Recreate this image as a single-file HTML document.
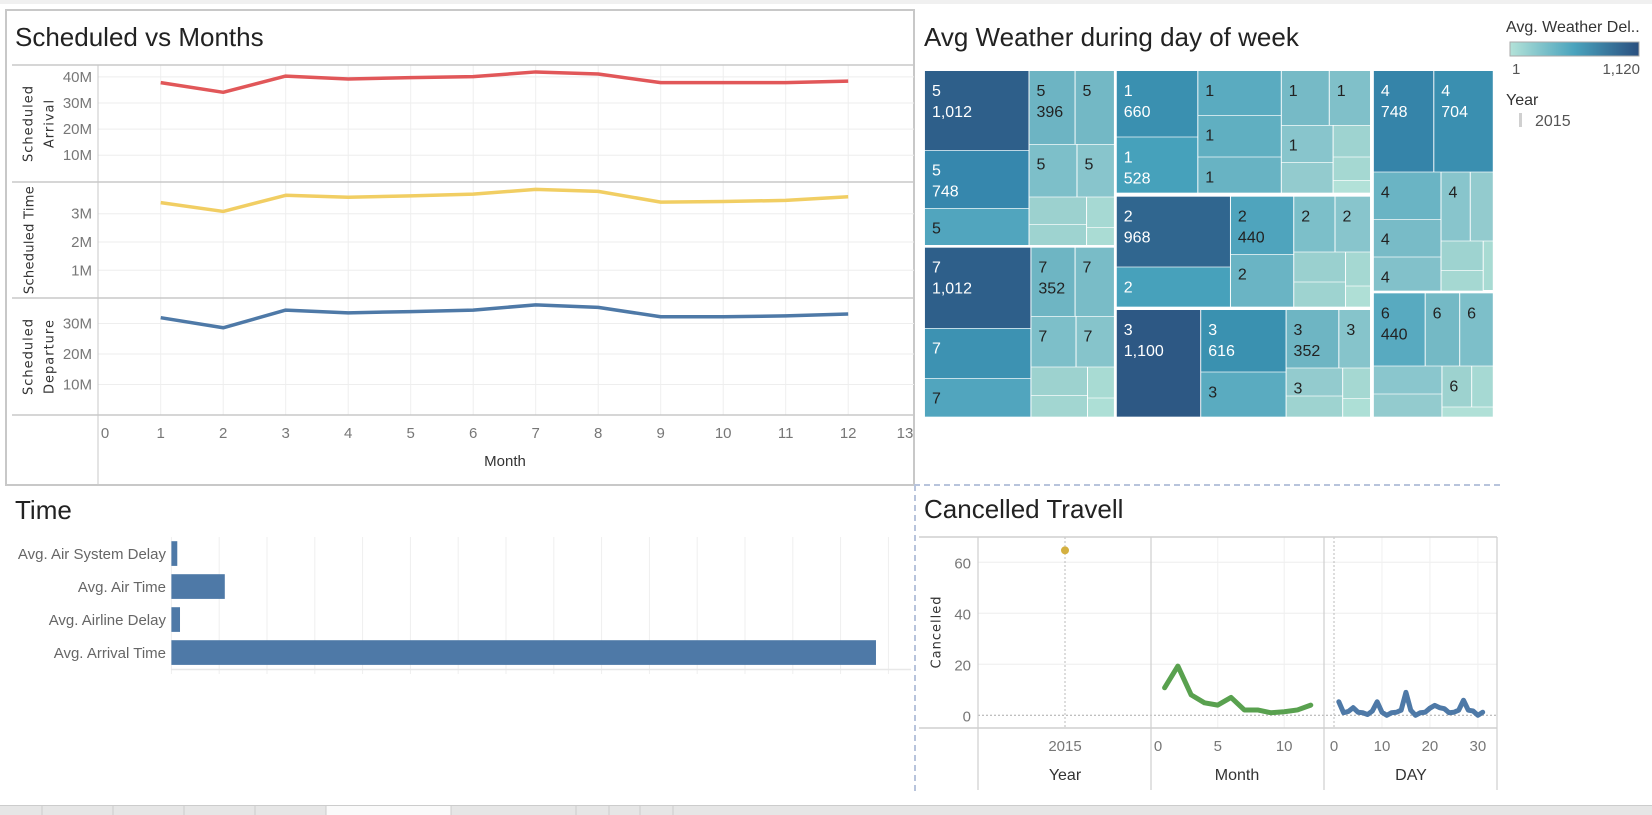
<!DOCTYPE html>
<html><head><meta charset="utf-8">
<style>
html,body{margin:0;padding:0;background:#fff;width:1652px;height:815px;overflow:hidden}
svg{display:block}
text{font-family:"Liberation Sans Narrow","Liberation Sans",sans-serif}
</style></head>
<body>
<svg id="s" width="1652" height="815" viewBox="0 0 1652 815" xmlns="http://www.w3.org/2000/svg">
<rect x="0" y="0" width="1652" height="4" fill="#f0f0f0"/>
<rect x="6" y="10" width="908" height="475" fill="none" stroke="#c8c8c8" stroke-width="2"/>
<text x="15" y="46" font-size="26" fill="#222">Scheduled vs Months</text>
<text x="924" y="46" font-size="26" fill="#222">Avg Weather during day of week</text>
<text x="15" y="519" font-size="26" fill="#222">Time</text>
<text x="924" y="518" font-size="26" fill="#222">Cancelled Travell</text>
<line x1="914" y1="485" x2="1501" y2="485" stroke="#b8c4dc" stroke-width="2" stroke-dasharray="6,4"/>
<line x1="915" y1="485" x2="915" y2="795" stroke="#b8c4dc" stroke-width="2" stroke-dasharray="6,4"/>
<rect x="0" y="805" width="1652" height="10" fill="#e6e6e6"/>
<rect x="326" y="806" width="125" height="9" fill="#fafafa"/>
<g id="tabs"></g>
<g id="left"></g><g id="tree"></g><g id="legend"></g><g id="bars"></g><g id="canc"></g>
</svg>
<script>
// ---- Scheduled vs Months data ----
const months=[1,2,3,4,5,6,7,8,9,10,11,12];
const arrival=[37.8,34.1,40.3,39.2,39.7,40.1,41.9,41.1,37.8,37.8,37.8,38.4];
const schedTime=[3.39,3.08,3.65,3.58,3.63,3.69,3.86,3.79,3.41,3.43,3.47,3.6];
const departure=[31.9,28.6,34.4,33.5,33.9,34.4,36.1,35.3,32.2,32.2,32.5,33.1];
const monthTicks=[0,1,2,3,4,5,6,7,8,9,10,11,12,13];
const arrTicks=[10,20,30,40];
const timeTicks=[1,2,3];
const depTicks=[10,20,30];
// ---- Time bars ----
const barCats=["Avg. Air System Delay","Avg. Air Time","Avg. Airline Delay","Avg. Arrival Time"];
const barVals=[12.3,111.7,18,1474];
// ---- Cancelled ----
const yearVal=[64.7];
const monthCanc=[10.8,19.3,8,4.9,4,7,2.1,2.1,1,1.4,2.1,4];
const dayCanc=[5.3,1,1.5,3,1.2,1,0.3,1.7,5.3,1.2,0,1,1.2,2,9,2,0,1,1.2,2.8,3.9,3,2.6,1,1.2,2,5.9,2,1.7,0,1.2];
const cancTicks=[0,20,40,60];
// ---- Treemap cells ----
const tmDays=["5","5","5","5","5","5","5","","","","", "7","7","7","7","7","7","7","","","","", "1","1","1","1","1","1","1","1","","","","", "2","2","2","2","2","2","","","","", "3","3","3","3","3","3","","","", "4","4","4","4","4","4","","","","", "6","6","6","","","6","",""];
const tmVals=["1,012","396","","748","","","","","","","", "1,012","352","","","","","","","","","", "660","528","","","","","","","","","","", "968","","440","","","","","","","", "1,100","616","","352","","","","","", "748","704","","","","","","","","", "440","","","","","","",""];
const tmColors=["#2e5f8a","#6db4c3","#73b8c5","#3687ad","#51a5be","#7dbfc9","#88c5cc","#9cd1cf","#a6d9d3","#9ed3d0","#aadcd4",
"#2e5f8a","#6eb5c3","#79bcc7","#3d92b2","#51a5be","#7dbfc9","#86c4cb","#9dd2cf","#a8dbd3","#a2d6d1","#addfd6",
"#3a90b0","#46a1bb","#5aabc0","#60afc1","#68b3c3","#76bac6","#80c0c9","#88c5cc","#9ed3d0","#93cbce","#a5d8d2","#b2e1d8",
"#30668f","#47a1bb","#4fa4bd","#6ab4c4","#7cbfc9","#88c5cc","#9ad0cf","#a5d8d2","#9ed3d0","#afdfd6",
"#2d5884","#3a91b0","#5aabc0","#6eb5c3","#86c4cb","#93cbce","#a5d8d2","#9ed3d0","#addfd6",
"#3584a9","#3a8fb0","#6ab4c4","#78bbc7","#82c1ca","#88c5cc","#93cbce","#9ed3d0","#a8dbd3","#a5d8d2",
"#58aac0","#74b9c5","#7dbfc9","#8ac6cd","#93cbce","#9dd2cf","#a6d9d3","#b0e0d7"];
const tmRects=[[52,268,213,450],[270,364,213,432],[366,446,213,432],[52,268,452,624],[52,268,626,735],[270,368,434,590],[370,446,434,590],[270,388,592,672],[390,446,592,682],[270,388,674,735],[390,446,684,735],
[52,272,743,984],[274,364,743,948],[366,446,743,948],[52,272,986,1134],[52,272,1136,1250],[274,366,950,1100],[368,446,950,1100],[274,390,1102,1185],[392,446,1102,1193],[274,390,1187,1250],[392,446,1195,1250],
[452,620,213,410],[452,620,412,578],[622,794,213,345],[622,794,347,470],[622,794,472,578],[796,894,213,375],[896,980,213,375],[796,902,377,486],[904,980,377,470],[796,902,488,578],[904,980,472,540],[904,980,542,578],
[452,688,590,800],[452,688,802,920],[690,820,590,762],[690,820,764,920],[822,906,590,755],[908,980,590,755],[822,928,757,845],[930,980,757,857],[822,928,847,920],[930,980,859,920],
[452,626,930,1250],[628,804,930,1115],[628,804,1117,1250],[806,914,930,1103],[916,980,930,1103],[806,922,1105,1187],[924,980,1105,1195],[806,922,1189,1250],[924,980,1197,1250],
[988,1112,213,515],[1114,1236,213,515],[988,1127,517,657],[988,1127,659,770],[988,1127,772,872],[1129,1188,517,722],[1190,1236,517,722],[1129,1215,724,810],[1217,1236,724,870],[1129,1215,812,872],
[988,1094,880,1097],[1096,1166,880,1097],[1168,1236,880,1097],[988,1129,1099,1181],[988,1129,1183,1250],[1131,1191,1099,1220],[1193,1236,1099,1220],[1131,1236,1222,1250]];

const NS="http://www.w3.org/2000/svg";
function mk(tag,attrs,parent,txt){const e=document.createElementNS(NS,tag);for(const k in attrs)e.setAttribute(k,attrs[k]);if(txt!==undefined)e.textContent=txt;parent.appendChild(e);return e;}

// ---- left chart ----
const L=document.getElementById('left');
const xM=m=>98.2+62.5*m;
const panes=[
 {name:'arrival',top:65,bot:182,zero:181.3,per:2.61,ticks:arrTicks,vals:arrival,color:'#e15759',title:['Scheduled','Arrival']},
 {name:'time',top:182,bot:298,zero:298.6,per:28.3,ticks:timeTicks,vals:schedTime,color:'#f1ce63',title:['Scheduled Time']},
 {name:'departure',top:298,bot:415,zero:415,per:3.05,ticks:depTicks,vals:departure,color:'#4e79a7',title:['Scheduled','Departure']}
];
monthTicks.forEach(m=>{if(m>=1&&m<=12){const g=mk('line',{x1:xM(m),y1:65,x2:xM(m),y2:415,stroke:'#eeeeee','stroke-width':1},L);
}});
panes.forEach(p=>{
 const y=v=>p.zero-v*p.per;
 p.ticks.forEach(t=>{const gl=mk('line',{x1:98,y1:y(t),x2:914,y2:y(t),stroke:'#eeeeee'},L);
 
 const tl=mk('text',{x:92,y:y(t)+5,'font-size':15,fill:'#777','text-anchor':'end'},L,t+'M');
 });
 const sep=mk('line',{x1:12,y1:p.top,x2:914,y2:p.top,stroke:'#c8c8c8','stroke-width':1.5},L);
 
 const pts=months.map((m,i)=>xM(m)+','+y(p.vals[i])).join(' ');
 const pl=mk('polyline',{points:pts,fill:'none',stroke:p.color,'stroke-width':3.5,'stroke-linejoin':'round'},L);
 
 const cy=(p.top+p.bot)/2;
 p.title.forEach((t,i)=>{const xx=p.title.length===1?30:29+i*21;
  const at=mk('text',{x:xx,y:cy,fill:'#333','text-anchor':'middle',transform:`rotate(-90 ${xx} ${cy})`,'dominant-baseline':'middle',style:'font-family:"DejaVu Sans",sans-serif;font-size:13px','letter-spacing':p.title.length===1?'0.3':'1'},L,t);
  });
});
{const s=mk('line',{x1:12,y1:415,x2:914,y2:415,stroke:'#c8c8c8','stroke-width':1.5},L);
const v=mk('line',{x1:98,y1:65,x2:98,y2:485,stroke:'#c8c8c8'},L);}
monthTicks.forEach(m=>{const xx=m===0?105:(m===13?905:xM(m));
 const t=mk('text',{x:xx,y:438,'font-size':15,fill:'#777','text-anchor':'middle'},L,String(m));
 });
{const t=mk('text',{x:505,y:466,'font-size':15,fill:'#333','text-anchor':'middle'},L,'Month');}

// ---- treemap ----
const T=document.getElementById('tree');
const zx=x=>900+x*0.4796, zy=y=>y/3;
const darkSet=['#2e5f8a','#3687ad','#3d92b2','#3a90b0','#46a1bb','#30668f','#47a1bb','#2d5884','#3a91b0','#3584a9','#3a8fb0'];
tmRects.forEach((r,i)=>{
 const x1=zx(r[0]),x2=zx(r[1]),y1=zy(r[2]),y2=zy(r[3]);
 const rc=mk('rect',{x:x1,y:y1,width:x2-x1,height:y2-y1,fill:tmColors[i]},T);
 
 const fc=darkSet.includes(tmColors[i])?'#fff':'#222';
 if(tmDays[i]){const t=mk('text',{x:x1+7,y:y1+25,'font-size':16,fill:fc},T,tmDays[i]);}
 if(tmVals[i]){const t=mk('text',{x:x1+7,y:y1+46,'font-size':16,fill:fc},T,tmVals[i]);}
});

// ---- legend ----
const G=document.getElementById('legend');
G.innerHTML=`<defs><linearGradient id="lg" x1="0" x2="1"><stop offset="0" stop-color="#b3e2d8"/><stop offset="0.5" stop-color="#4aa3bd"/><stop offset="1" stop-color="#2a4f7f"/></linearGradient></defs>`;
{let t=mk('text',{x:1506,y:32,'font-size':16,fill:'#333'},G,'Avg. Weather Del..');
let r=mk('rect',{x:1510,y:42,width:129,height:14,fill:'url(#lg)',stroke:'#aaa'},G);
t=mk('text',{x:1512,y:74,'font-size':15,fill:'#555'},G,'1');
t=mk('text',{x:1640,y:74,'font-size':15,fill:'#555','text-anchor':'end'},G,'1,120');
t=mk('text',{x:1506,y:105,'font-size':16,fill:'#333'},G,'Year');
r=mk('rect',{x:1519,y:113,width:3,height:14,fill:'#d0d0d0'},G);
t=mk('text',{x:1535,y:126,'font-size':16,fill:'#555'},G,'2015');}

// ---- Time bars ----
const B=document.getElementById('bars');
const xb=v=>171.4+v*0.478;
for(let k=0;k<=15;k++){const gl=mk('line',{x1:xb(k*100),y1:537,x2:xb(k*100),y2:674,stroke:'#efefef'},B);
 }
{const a=mk('line',{x1:171,y1:669.5,x2:911,y2:669.5,stroke:'#e8e8e8','stroke-width':1.5},B);}
barCats.forEach((c,i)=>{const yc=553.5+i*33;
 const r=mk('rect',{x:xb(0),y:yc-12.3,width:xb(barVals[i])-xb(0),height:24.7,fill:'#4e79a7'},B);
 
 const t=mk('text',{x:166,y:yc+5.5,'font-size':15,fill:'#666','text-anchor':'end'},B,c);
 });

// ---- Cancelled ----
const C=document.getElementById('canc');
const yc=v=>715.3-v*2.55;
const xMo=m=>1151.3+m*13.29;
const xD=d=>1334+d*4.796;
cancTicks.forEach(t=>{if(t>0){const g=mk('line',{x1:978,y1:yc(t),x2:1497,y2:yc(t),stroke:'#eeeeee'},C);}
 const l=mk('text',{x:971,y:yc(t)+6,'font-size':15,fill:'#777','text-anchor':'end'},C,String(t));});
[5,10].forEach(m=>{const g=mk('line',{x1:xMo(m),y1:537,x2:xMo(m),y2:728,stroke:'#f0f0f0'},C);});
[10,20,30].forEach(d=>{const g=mk('line',{x1:xD(d),y1:537,x2:xD(d),y2:728,stroke:'#f0f0f0'},C);});
{const z=mk('line',{x1:978,y1:715.3,x2:1497,y2:715.3,stroke:'#aaa','stroke-dasharray':'2,2'},C);
const yl=mk('line',{x1:1065,y1:537,x2:1065,y2:728,stroke:'#bbb','stroke-dasharray':'2,2'},C);
const dl=mk('line',{x1:1334,y1:537,x2:1334,y2:728,stroke:'#bbb','stroke-dasharray':'2,2'},C);
const ft=mk('line',{x1:919,y1:537,x2:1497,y2:537,stroke:'#cfcfcf','stroke-width':1.5},C);
const fb=mk('line',{x1:919,y1:728,x2:1497,y2:728,stroke:'#cfcfcf','stroke-width':1.5},C);
[978,1151,1324,1497].forEach(x=>{const d=mk('line',{x1:x,y1:537,x2:x,y2:790,stroke:'#cfcfcf','stroke-width':1.2},C);});
const dot=mk('circle',{cx:1065,cy:yc(yearVal[0]),r:4,fill:'#d4b040'},C);
const ml=mk('polyline',{points:monthCanc.map((v,i)=>xMo(i+1)+','+yc(v)).join(' '),fill:'none',stroke:'#59a14f','stroke-width':5,'stroke-linejoin':'round','stroke-linecap':'round'},C);
const dln=mk('polyline',{points:dayCanc.map((v,i)=>xD(i+1)+','+yc(v)).join(' '),fill:'none',stroke:'#4e79a7','stroke-width':5,'stroke-linejoin':'round','stroke-linecap':'round'},C);
const labs=[[1065,'2015'],[1158,'0'],[xMo(5),'5'],[xMo(10),'10'],[1334,'0'],[xD(10),'10'],[xD(20),'20'],[xD(30),'30']];
labs.forEach(l=>{const t=mk('text',{x:l[0],y:751,'font-size':15,fill:'#777','text-anchor':'middle'},C,l[1]);});
[[1065,'Year'],[1237,'Month'],[1411,'DAY']].forEach(l=>{const t=mk('text',{x:l[0],y:780,'font-size':16,fill:'#333','text-anchor':'middle'},C,l[1]);});
const yt=mk('text',{x:937,y:632,fill:'#333','text-anchor':'middle','dominant-baseline':'middle',transform:'rotate(-90 937 632)',style:'font-family:"DejaVu Sans",sans-serif;font-size:13px','letter-spacing':'1'},C,'Cancelled');}

// tabs
const TB=document.getElementById('tabs');
[42,113,184,255,326,451,576,609,640,673].forEach(x=>{const l=mk('line',{x1:x,y1:806,x2:x,y2:815,stroke:'#cccccc'},TB);});
{const l=mk('line',{x1:0,y1:805.5,x2:1652,y2:805.5,stroke:'#cccccc'},TB);}
</script>
</body></html>
